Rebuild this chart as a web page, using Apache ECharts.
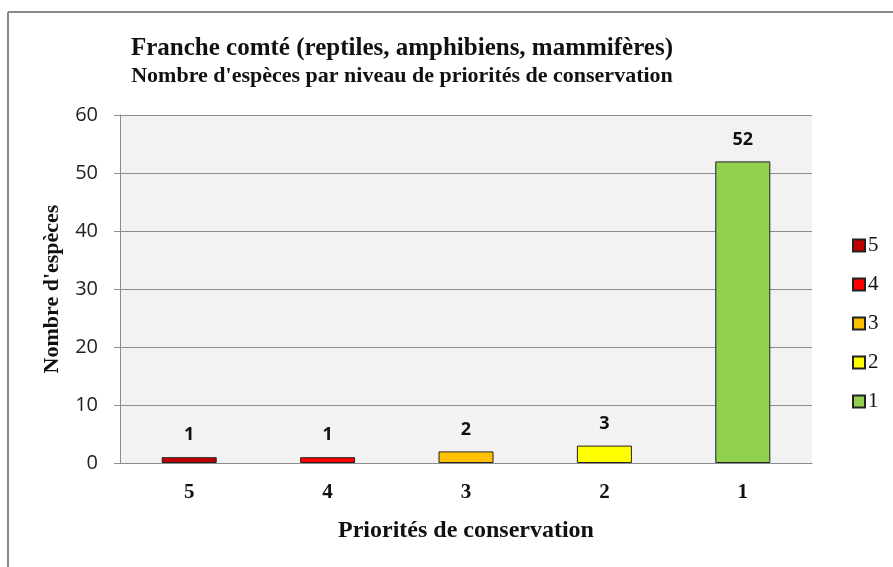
<!DOCTYPE html>
<html>
<head>
<meta charset="utf-8">
<script src="https://cdn.jsdelivr.net/npm/echarts@6/dist/echarts.min.js"></script>
<style>
  html, body { margin: 0; padding: 0; background: #fff; }
  #chart { width: 893px; height: 567px; }
</style>
</head>
<body>
<div id="chart"></div>
<script>
// priorités de conservation, de 5 (forte) à 1
const categories = ['5', '4', '3', '2', '1']
const especes = [1, 1, 2, 3, 52]
const couleurs = ['#c00000', '#ff0000', '#ffc000', '#ffff00', '#92d050']
const yTicks = [0, 10, 20, 30, 40, 50, 60]

const serif = '"Liberation Serif", "DejaVu Serif", serif'
const sans = '"Open Sans", "Liberation Sans", sans-serif'

const chart = echarts.init(document.getElementById('chart'))

const series = categories.map((cat, i) => ({
  name: cat,
  type: 'bar',
  stack: 'total',
  barWidth: 55,
  data: categories.map((c, j) => (j === i ? especes[i] : '-')),
  itemStyle: {
    color: couleurs[i],
    borderColor: '#222',
    borderWidth: 1
  },
  label: {
    show: true,
    position: 'top',
    distance: 13,
    fontFamily: sans,
    fontWeight: 'bold',
    fontSize: 18,
    color: '#111'
  }
}))

const option = {
  backgroundColor: '#fff',
  animation: false,
  title: {
    text: 'Franche comté (reptiles, amphibiens, mammifères)',
    subtext: "Nombre d'espèces par niveau de priorités de conservation",
    left: 397,
    textAlign: 'center',
    top: 32,
    itemGap: 4,
    textStyle: { fontFamily: serif, fontWeight: 'bold', fontSize: 25, lineHeight: 24, color: '#111' },
    subtextStyle: { fontFamily: serif, fontWeight: 'bold', fontSize: 22, lineHeight: 21, color: '#111' }
  },
  legend: {
    orient: 'vertical',
    left: 847,
    top: 230,
    itemWidth: 12,
    itemHeight: 12,
    itemGap: 18,
    icon: 'rect',
    data: categories,
    textStyle: { fontFamily: serif, fontSize: 21, lineHeight: 19, color: '#111', padding: [0, 0, 0, -2] }
  },
  grid: {
    left: 120,
    top: 115,
    width: 692,
    height: 348,
    show: true,
    backgroundColor: '#f2f2f2',
    borderWidth: 0
  },
  xAxis: {
    type: 'category',
    data: categories,
    name: 'Priorités de conservation',
    nameLocation: 'middle',
    nameGap: 56,
    nameTextStyle: { fontFamily: serif, fontWeight: 'bold', fontSize: 24, color: '#111' },
    axisLine: { lineStyle: { color: '#8c8c8c', width: 1 } },
    axisTick: { show: false },
    axisLabel: { fontFamily: serif, fontWeight: 'bold', fontSize: 21, color: '#111', margin: 19 }
  },
  yAxis: {
    type: 'value',
    min: yTicks[0],
    max: yTicks[yTicks.length - 1],
    interval: 10,
    name: "Nombre d'espèces",
    nameLocation: 'middle',
    nameGap: 57,
    nameTextStyle: { fontFamily: serif, fontWeight: 'bold', fontSize: 22, color: '#111' },
    axisLine: { show: true, lineStyle: { color: '#8c8c8c', width: 1 } },
    axisTick: { show: true, inside: false, length: 6, lineStyle: { color: '#8c8c8c' } },
    axisLabel: { fontFamily: sans, fontSize: 20, color: '#222', margin: 22 },
    splitLine: { lineStyle: { color: '#8c8c8c', width: 1 } }
  },
  graphic: [
    { type: 'line', shape: { x1: 8, y1: 12, x2: 893, y2: 12 }, style: { stroke: '#888', lineWidth: 2 } },
    { type: 'line', shape: { x1: 8, y1: 12, x2: 8, y2: 567 }, style: { stroke: '#888', lineWidth: 2 } }
  ],
  series: series
}

chart.setOption(option)
window.addEventListener('resize', () => chart.resize())
</script>
</body>
</html>
